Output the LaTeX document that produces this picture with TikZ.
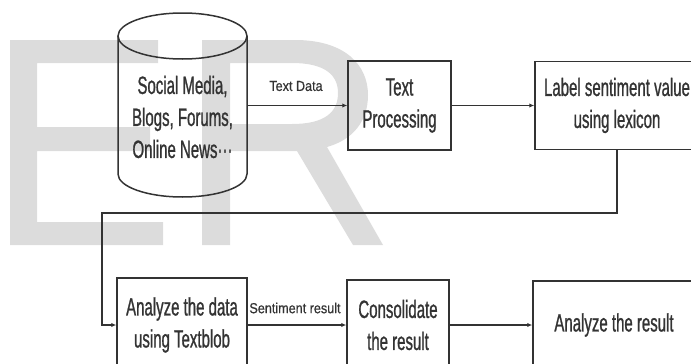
\documentclass[tikz,border=0pt]{standalone}
\usepackage{fontspec}
\setmainfont{Liberation Sans}[FakeStretch=0.6, FakeBold=0.9]
\newfontfamily\lblfont{Liberation Sans}[FakeStretch=0.87, FakeBold=0.6]
\usetikzlibrary{arrows.meta}
\definecolor{ink}{HTML}{333333}
\definecolor{wm}{HTML}{DCDCDC}
\tikzset{
  x=1pt, y=-1pt,
  line/.style={draw=ink, line width=1.5pt},
  arr/.style={line, -{Latex[length=5pt,width=4.5pt]}},
  stepbox/.style={line, rectangle, align=center, text=ink,
    font=\fontsize{25}{32}\selectfont},
  lbl/.style={text=ink, inner sep=0pt, font=\lblfont\fontsize{14.5}{16}\selectfont},
}
\begin{document}
\begin{tikzpicture}
\useasboundingbox (0,0) rectangle (691,364);
\clip (0,0) rectangle (691,364);

% background lettering
\fill[wm] (10,40) -- (158,40) -- (158,63) -- (37,63) -- (37,127) -- (150,127)
  -- (150,151) -- (37,151) -- (37,222) -- (163,222) -- (163,245) -- (10,245) -- cycle;
\fill[wm, even odd rule]
  (202,245) -- (202,40) -- (295,40) .. controls (345,40) and (368,65) .. (368,95)
  .. controls (368,122) and (352,140) .. (327,147) -- (383,245) -- (353,245)
  -- (297,151) -- (230,151) -- (230,245) -- cycle
  (230,63) -- (292,63) .. controls (325,63) and (338,75) .. (338,93)
  .. controls (338,112) and (325,124) .. (292,124) -- (230,124) -- cycle;

% data source cylinder
\node[stepbox, draw=none, minimum width=129pt, minimum height=110pt] (src) at (182.5,117)
  {Social Media,\\Blogs, Forums,\\Online News\textperiodcentered\textperiodcentered\textperiodcentered};
\draw[line] (118,36) -- (118,174) arc[start angle=180, end angle=360, x radius=64.5pt, y radius=23pt] -- (247,36);
\draw[line] (182.5,36) ellipse [x radius=64.5pt, y radius=23pt];

% processing steps
\node[stepbox, minimum width=103pt, minimum height=89pt] (tp) at (399.5,105.5) {Text\\Processing};
\node[stepbox, minimum width=164pt, minimum height=88pt] (lab) at (617,105.5) {Label sentiment value\\using lexicon};
\node[stepbox, minimum width=130pt, minimum height=94pt] (ad) at (182,325) {Analyze the data\\using Textblob};
\node[stepbox, minimum width=102pt, minimum height=90pt] (cons) at (398,325) {Consolidate\\the result};
\node[stepbox, minimum width=162pt, minimum height=88pt] (ar) at (614,325) {Analyze the result};

% edge labels
\node[lbl] (td) at (296,86) {Text Data};
\node[lbl] (sr) at (295,308) {Sentiment result};

% connectors
\coordinate (turn) at (102,213);
\draw[arr] (src.east |- tp.west) -- (tp.west);
\draw[arr] (tp.east) -- (lab.west);
\draw[arr] (lab.south) |- (turn) |- (ad.west);
\draw[arr] (ad.east) -- (cons.west);
\draw[arr] (cons.east) -- (ar.west);
\end{tikzpicture}
\end{document}
